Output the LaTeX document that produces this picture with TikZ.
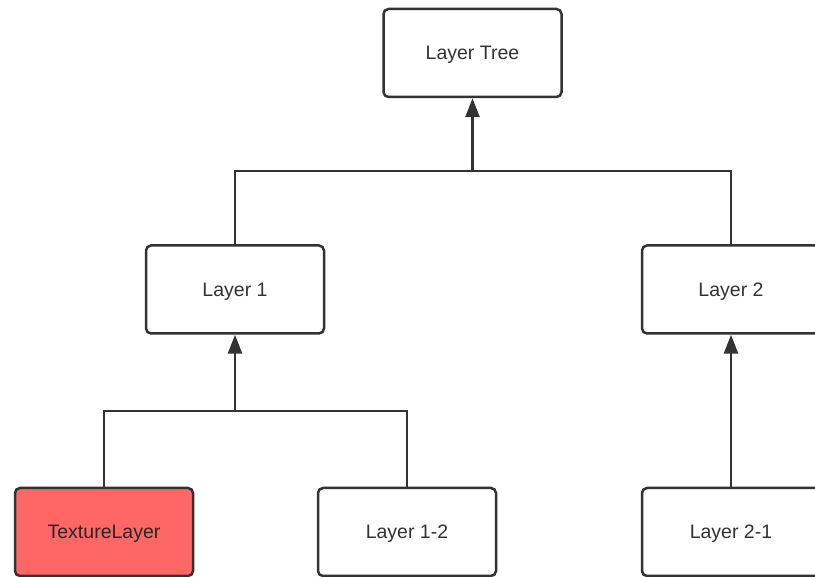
\documentclass[tikz,border=0pt]{standalone}
\usepackage{fontspec}
\setmainfont{Liberation Sans}
\usetikzlibrary{arrows.meta}
\definecolor{linec}{HTML}{333333}
\definecolor{redfill}{HTML}{FF6666}
\tikzset{
  box/.style={draw=linec, line width=2.5pt, rounded corners=5pt, fill=white,
    minimum width=178pt, minimum height=88pt, inner sep=0pt, text depth=0pt,
    font=\fontsize{19.5}{22}\selectfont, text=linec},
  conn/.style={draw=linec, line width=2.8pt},
  arr/.style={conn, -{Triangle[length=19pt,width=14pt]}}
}
\begin{document}
\begin{tikzpicture}[x=1pt,y=-1pt]
\useasboundingbox (0,0) rectangle (815,577);
\clip (0,0) rectangle (815,577);
\node[box] (tree) at (472.5,53) {Layer Tree};
\node[box] (l1) at (235,289.5) {Layer 1};
\node[box] (l2) at (731,289.5) {Layer 2};
\node[box, fill=redfill, text=black!85] (tex) at (104,532) {TextureLayer};
\node[box] (l12) at (407,532) {Layer 1-2};
\node[box] (l21) at (731,532) {Layer 2-1};
\coordinate (j0) at (472.5,171);
\coordinate (j1) at (235,411);
\draw[conn] (l1.north) |- (j0) -| (l2.north);
\draw[arr] (j0) -- (tree.south);
\draw[conn] (tex.north) |- (j1) -| (l12.north);
\draw[arr] (j1) -- (l1.south);
\draw[arr] (l21.north) -- (l2.south);
\end{tikzpicture}
\end{document}
